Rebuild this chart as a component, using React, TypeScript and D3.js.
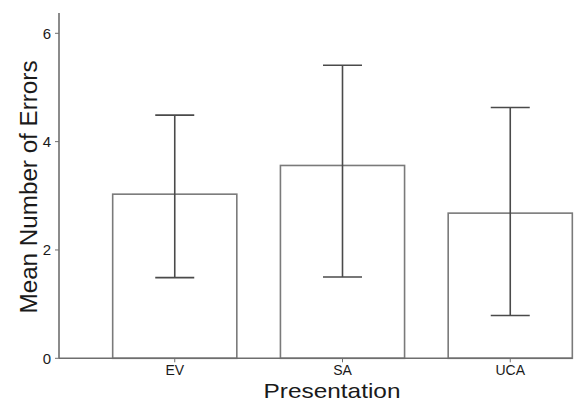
import React, { useEffect, useRef } from "react";
import * as d3 from "d3";

const categories = ["EV", "SA", "UCA"];
const means = [3.03, 3.56, 2.68];
const errLow = [1.49, 1.5, 0.79];
const errHigh = [4.49, 5.41, 4.63];
const yTicks = [0, 2, 4, 6];

const App = () => {
  const svgRef = useRef<SVGSVGElement>(null);

  useEffect(() => {
    const width = 578;
    const height = 401;
    const svg = d3.select(svgRef.current).attr("width", width).attr("height", height);
    svg.selectAll("*").remove();

    const x0 = 59;
    const xEnd = 572;
    const y = d3.scaleLinear().domain([0, 6]).range([358.3, 33.3]);

    // bands run past the right edge, like the cropped original
    const x = d3
      .scaleBand()
      .domain(categories)
      .range([x0, 626])
      .paddingInner(0.26)
      .paddingOuter(0.32);

    const font = "Liberation Sans, Arial, sans-serif";
    const axisColor = "#6e6e6e";
    const textColor = "#1a1a1a";

    // bars
    svg
      .append("g")
      .selectAll("rect")
      .data(categories)
      .join("rect")
      .attr("x", (d) => x(d)!)
      .attr("y", (d, i) => y(means[i]))
      .attr("width", x.bandwidth())
      .attr("height", (d, i) => y(0) - y(means[i]))
      .attr("fill", "#ffffff")
      .attr("stroke", "#7a7a7a")
      .attr("stroke-width", 1.6);

    // error bars
    const capW = 39;
    const eb = svg.append("g").attr("stroke", "#4a4a4a").attr("stroke-width", 1.6);
    categories.forEach((c, i) => {
      const cx = x(c)! + x.bandwidth() / 2;
      eb.append("line")
        .attr("x1", cx).attr("x2", cx)
        .attr("y1", y(errLow[i])).attr("y2", y(errHigh[i]));
      [errLow[i], errHigh[i]].forEach((v) => {
        eb.append("line")
          .attr("x1", cx - capW / 2).attr("x2", cx + capW / 2)
          .attr("y1", y(v)).attr("y2", y(v));
      });
    });

    // y axis
    svg.append("line")
      .attr("x1", x0).attr("x2", x0)
      .attr("y1", 13).attr("y2", y(0))
      .attr("stroke", axisColor).attr("stroke-width", 1.6);
    const yt = svg.append("g");
    yt.selectAll("line")
      .data(yTicks)
      .join("line")
      .attr("x1", x0 - 4).attr("x2", x0)
      .attr("y1", (d) => y(d)).attr("y2", (d) => y(d))
      .attr("stroke", axisColor);
    yt.selectAll("text")
      .data(yTicks)
      .join("text")
      .attr("x", x0 - 8)
      .attr("y", (d) => y(d))
      .attr("dy", "0.35em")
      .attr("text-anchor", "end")
      .attr("font-family", font)
      .attr("font-size", 15)
      .attr("fill", textColor)
      .text((d) => d);

    // x axis
    svg.append("line")
      .attr("x1", x0).attr("x2", xEnd)
      .attr("y1", y(0)).attr("y2", y(0))
      .attr("stroke", axisColor).attr("stroke-width", 1.6);
    const xt = svg.append("g");
    xt.selectAll("line")
      .data(categories)
      .join("line")
      .attr("x1", (d) => x(d)! + x.bandwidth() / 2)
      .attr("x2", (d) => x(d)! + x.bandwidth() / 2)
      .attr("y1", y(0)).attr("y2", y(0) + 4)
      .attr("stroke", axisColor);
    xt.selectAll("text")
      .data(categories)
      .join("text")
      .attr("x", (d) => x(d)! + x.bandwidth() / 2)
      .attr("y", y(0) + 17)
      .attr("text-anchor", "middle")
      .attr("font-family", font)
      .attr("font-size", 14)
      .attr("fill", textColor)
      .text((d) => d);

    // axis titles
    svg.append("text")
      .attr("x", 332)
      .attr("y", 398)
      .attr("text-anchor", "middle")
      .attr("font-family", font)
      .attr("font-size", 21)
      .attr("textLength", 137)
      .attr("lengthAdjust", "spacingAndGlyphs")
      .attr("fill", textColor)
      .text("Presentation");

    svg.append("text")
      .attr("transform", "translate(37,187) rotate(-90)")
      .attr("text-anchor", "middle")
      .attr("font-family", font)
      .attr("font-size", 23)
      .attr("textLength", 253)
      .attr("lengthAdjust", "spacingAndGlyphs")
      .attr("fill", textColor)
      .text("Mean Number of Errors");
  }, []);

  return (
    <div style={{ position: "absolute", left: 0, top: 0 }}>
      <svg ref={svgRef}></svg>
    </div>
  );
};

export default App;
